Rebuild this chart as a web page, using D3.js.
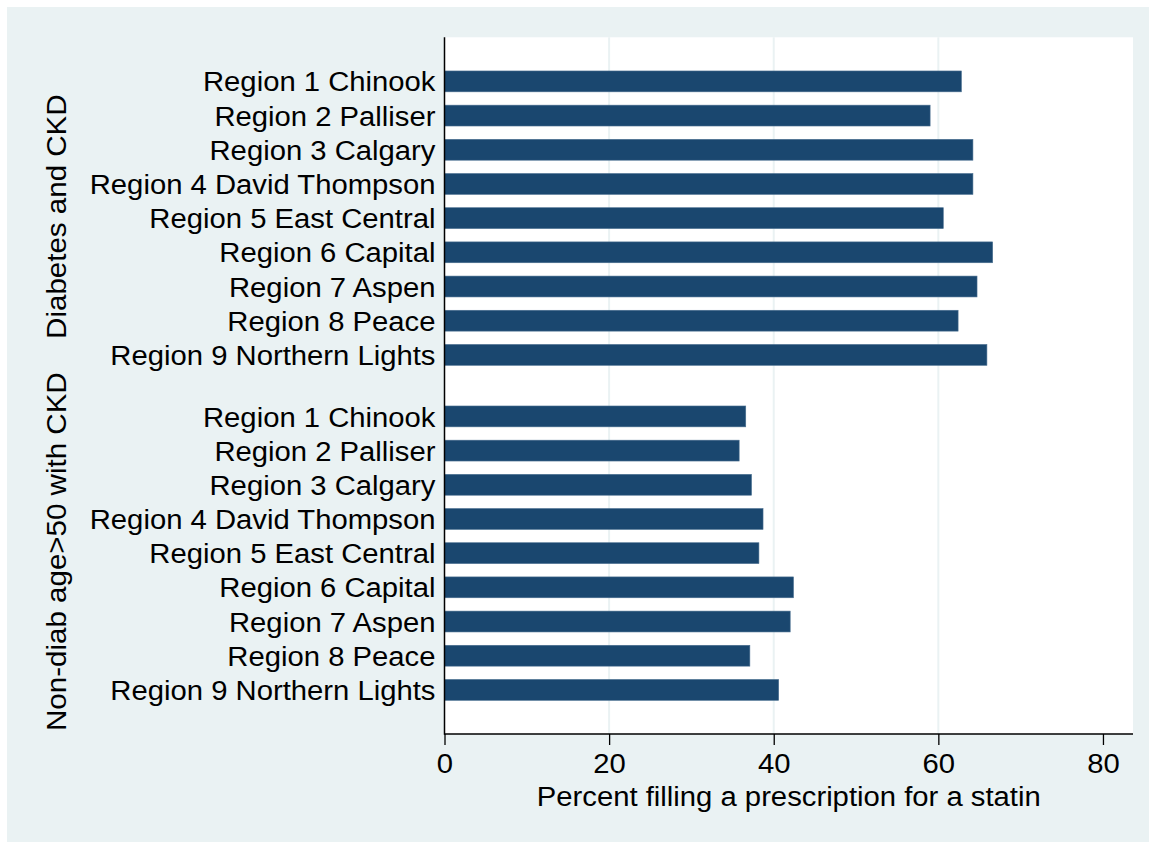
<!DOCTYPE html>
<html>
<head>
<meta charset="utf-8">
<script src="https://cdn.jsdelivr.net/npm/d3@7"></script>
<style>
  html, body { margin: 0; padding: 0; background: #ffffff; }
  svg { display: block; }
  text { font-family: "Liberation Sans", Arial, sans-serif; fill: #000; }
</style>
</head>
<body>
<svg id="chart" width="1149" height="842"></svg>
<script>
// ---- data ----
const groups = ["Diabetes and CKD", "Non-diab age>50 with CKD"];
const regions = [
  "Region 1 Chinook",
  "Region 2 Palliser",
  "Region 3 Calgary",
  "Region 4 David Thompson",
  "Region 5 East Central",
  "Region 6 Capital",
  "Region 7 Aspen",
  "Region 8 Peace",
  "Region 9 Northern Lights"
];
const diabetesCKD = [62.8, 59.0, 64.2, 64.2, 60.6, 66.6, 64.7, 62.4, 65.9];
const nonDiabCKD  = [36.6, 35.8, 37.3, 38.7, 38.2, 42.4, 42.0, 37.1, 40.6];
const xTicks = [0, 20, 40, 60, 80];
const xGrid = [20, 40, 60];
const xTitle = "Percent filling a prescription for a statin";

// ---- layout ----
const svg = d3.select("#chart");
const W = 1149, H = 842;
const plot = { left: 444.5, right: 1133, top: 37.3, bottom: 734 };
const bg = "#eaf2f3";
const barColor = "#1a476f";
const FS = 28;
const SX = 1.045; // horizontal stretch of glyphs

svg.append("rect").attr("x", 7).attr("y", 7).attr("width", W - 7).attr("height", H - 7).attr("fill", bg);
svg.append("rect").attr("x", plot.left).attr("y", plot.top)
  .attr("width", plot.right - plot.left).attr("height", plot.bottom - plot.top).attr("fill", "#ffffff");

const x = d3.scaleLinear().domain([0, 83.65]).range([plot.left, plot.right]);

// slot positions: group g item i -> g*groupSpan + i
const groupGap = 0.8;
const groupSpan = regions.length + groupGap;
const pad = 1.29;
const lastSlot = groupSpan + regions.length - 1;
const y = d3.scaleLinear().domain([-pad, lastSlot + pad]).range([plot.top, plot.bottom]);
const step = y(1) - y(0);
const barH = step * 0.61;

const data = [];
[diabetesCKD, nonDiabCKD].forEach((vals, g) => {
  vals.forEach((v, i) => data.push({ g, i, region: regions[i], value: v, slot: g * groupSpan + i }));
});

// gridlines
svg.append("g").selectAll("line").data(xGrid).join("line")
  .attr("x1", d => x(d)).attr("x2", d => x(d))
  .attr("y1", plot.top).attr("y2", plot.bottom)
  .attr("stroke", bg).attr("stroke-width", 2);

// bars
svg.append("g").selectAll("rect").data(data).join("rect")
  .attr("x", x(0))
  .attr("y", d => y(d.slot) - barH / 2)
  .attr("width", d => x(d.value) - x(0))
  .attr("height", barH)
  .attr("fill", barColor)
  .attr("stroke", "#4a6f90").attr("stroke-width", 0.6);

// category labels
svg.append("g").selectAll("text").data(data).join("text")
  .attr("transform", d => `translate(${plot.left - 9},${y(d.slot)}) scale(${SX},1)`)
  .attr("dy", "0.36em")
  .attr("text-anchor", "end")
  .style("font-size", FS + "px")
  .text(d => d.region);

// group labels (rotated), centred on each group's middle slot
const mid = (regions.length - 1) / 2;
svg.append("g").selectAll("text").data(groups).join("text")
  .attr("transform", (d, g) => `translate(65.5,${y(g * groupSpan + mid) - 1.5}) rotate(-90) scale(1.055,1)`)
  .attr("text-anchor", "middle")
  .style("font-size", FS + "px")
  .text(d => d);

// x axis
const xAxis = d3.axisBottom(x).tickValues(xTicks).tickSize(11).tickPadding(8).tickFormat(d3.format("d"));
const gx = svg.append("g").attr("transform", `translate(0,${plot.bottom})`).call(xAxis);
gx.select(".domain").attr("stroke", "#000").attr("stroke-width", 1.5)
  .attr("d", `M${plot.left},0H${plot.right}`);
gx.selectAll(".tick line").attr("stroke", "#000").attr("stroke-width", 1.3);
gx.selectAll(".tick text")
  .attr("transform", `scale(${SX},1)`)
  .attr("x", 0)
  .style("font-size", FS + "px")
  .style("font-family", '"Liberation Sans", Arial, sans-serif').attr("fill", "#000");

// y axis line
svg.append("line").attr("x1", plot.left).attr("x2", plot.left)
  .attr("y1", plot.top).attr("y2", plot.bottom + 0.75)
  .attr("stroke", "#000").attr("stroke-width", 1.5);

// x title
svg.append("text")
  .attr("transform", `translate(${(plot.left + plot.right) / 2},806) scale(${SX},1)`)
  .attr("text-anchor", "middle")
  .style("font-size", FS + "px")
  .text(xTitle);
</script>
</body>
</html>
